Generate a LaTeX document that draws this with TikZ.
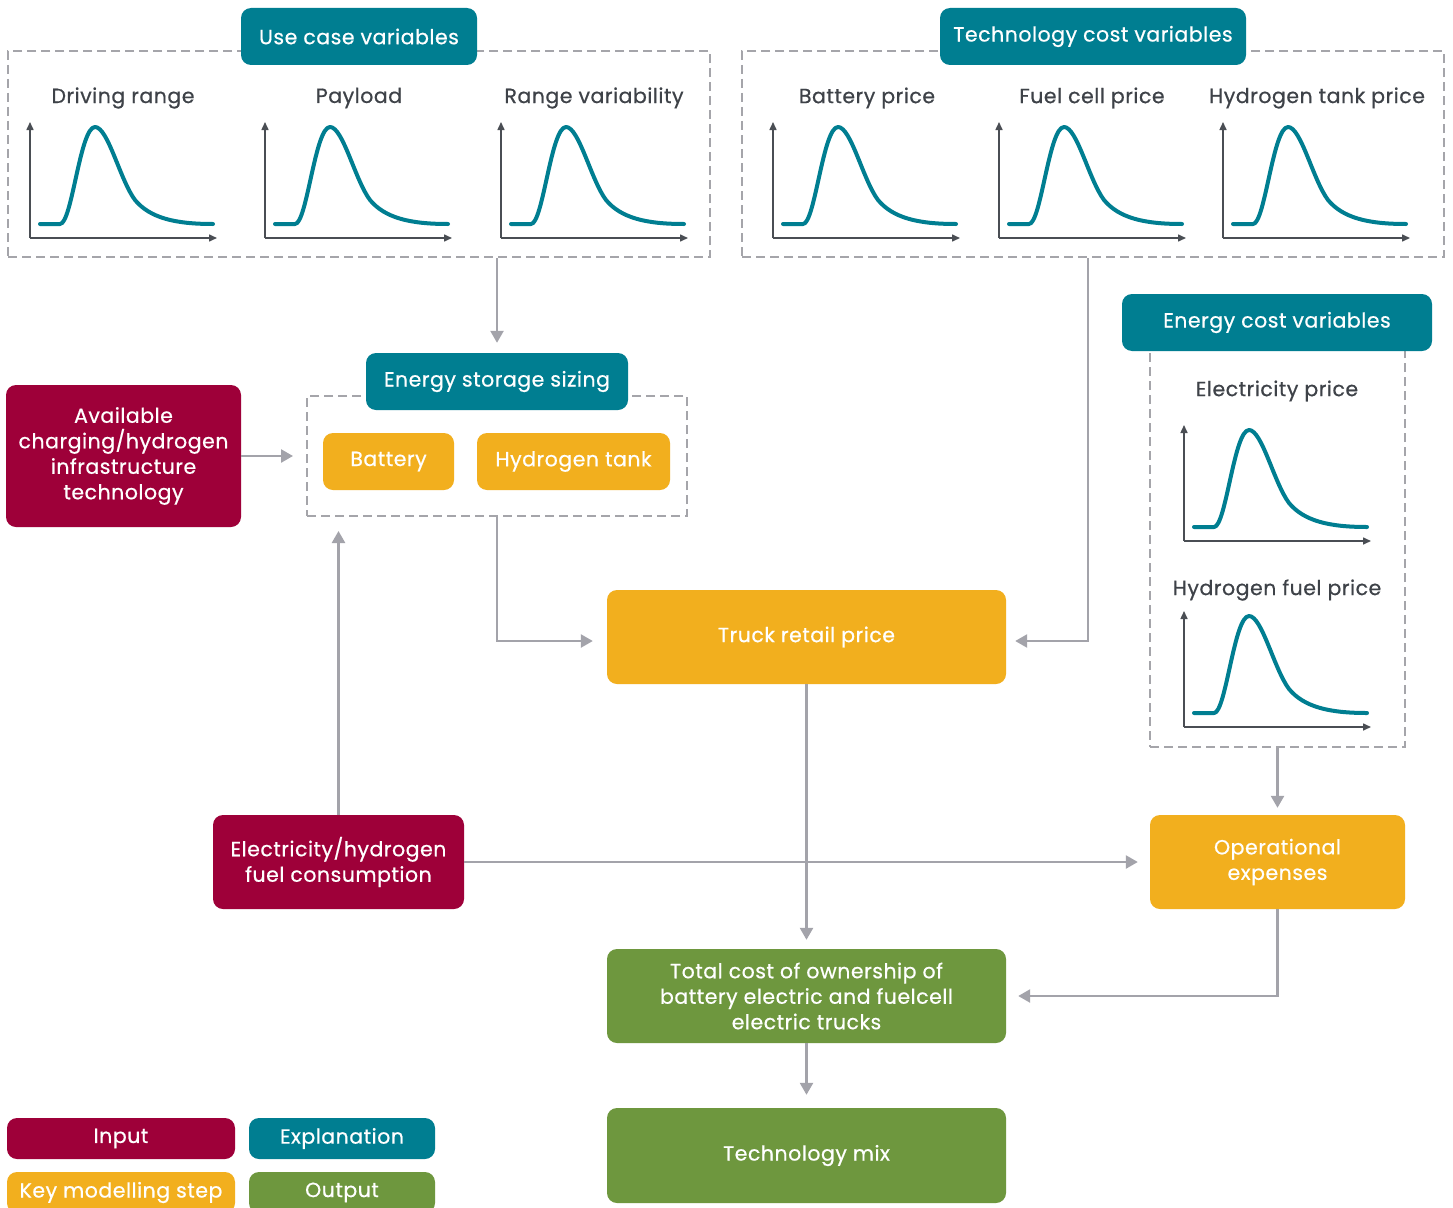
\documentclass[tikz,border=0pt]{standalone}
\usepackage{fontspec}
\setmainfont{Poppins}[LetterSpace=2.5,FakeBold=0.6]
\usetikzlibrary{arrows.meta}
\definecolor{crim}{RGB}{158,0,57}
\definecolor{tealc}{RGB}{0,126,145}
\definecolor{yel}{RGB}{242,175,30}
\definecolor{grn}{RGB}{110,151,62}
\definecolor{arrgray}{RGB}{163,163,170}
\definecolor{dashgray}{RGB}{165,165,170}
\definecolor{txtgray}{RGB}{62,66,72}
\definecolor{axgray}{RGB}{74,78,84}
\tikzset{
 box/.style={rectangle, rounded corners=10pt, fill=#1, text=white, align=center, font=\fontsize{20.5}{25.5}\selectfont, inner sep=0pt},
 dashbox/.style={rectangle, draw=dashgray, line width=2pt, dash pattern=on 9pt off 5pt, inner sep=0pt},
 arr/.style={draw=arrgray, line width=2.5pt, -{Triangle[length=12pt,width=13pt]}},
 lbl/.style={text=txtgray, font=\fontsize{20.5}{24}\selectfont, inner sep=0pt},
 axisline/.style={draw=axgray, line width=1.5pt, -{Triangle[length=8pt,width=7pt]}},
 distcurve/.style={draw=tealc, line width=4pt, line cap=round, line join=round},
}
\newcommand\distchart[2]{%
 \begin{scope}[shift={(#1,#2)}]
 \draw[axisline] (0,0) -- (0,-116);
 \draw[axisline] (0,0) -- (187,0);
 \draw[distcurve] (10,-14) -- (30,-14) .. controls (42,-14) and (50,-111) .. (65,-111) .. controls (78,-111) and (90,-58) .. (105,-38) .. controls (120,-20) and (145,-14) .. (183,-14);
 \end{scope}}
\begin{document}
\begin{tikzpicture}[x=1pt,y=-1pt]
\useasboundingbox[fill=white] (0,0) rectangle (1453,1207);

% Use case variables
\node[dashbox, minimum width=702, minimum height=206] (usecase) at (359,154) {};
\node[box=tealc, minimum width=236, minimum height=57] (usehead) at (359,36.5) {Use case variables};
\node[lbl] (ldr) at (123,98) {Driving range};
\node[lbl] (lpl) at (359,98) {Payload};
\node[lbl] (lrv) at (594,98) {Range variability};
\distchart{30}{238}
\distchart{265}{238}
\distchart{501}{238}

% Technology cost variables
\node[dashbox, minimum width=702, minimum height=206] (techbox) at (1093,154) {};
\node[box=tealc, minimum width=306, minimum height=57] (techhead) at (1093,36.5) {Technology cost variables};
\node[lbl] (lbp) at (867,98) {Battery price};
\node[lbl] (lfc) at (1092,98) {Fuel cell price};
\node[lbl] (lht) at (1317,98) {Hydrogen tank price};
\distchart{773}{238}
\distchart{999}{238}
\distchart{1223}{238}

% Energy cost variables
\node[dashbox, minimum width=255, minimum height=397] (energybox) at (1277.5,548.5) {};
\node[box=tealc, minimum width=310, minimum height=57] (energyhead) at (1277,322.5) {Energy cost variables};
\node[lbl] (lep) at (1277,391) {Electricity price};
\node[lbl] (lhf) at (1277,590) {Hydrogen fuel price};
\distchart{1184}{541}
\distchart{1184}{727}

% Energy storage sizing
\node[dashbox, minimum width=380, minimum height=120] (storebox) at (497,456) {};
\node[box=tealc, minimum width=262, minimum height=57] (storehead) at (497,381.5) {Energy storage sizing};
\node[box=yel, minimum width=131, minimum height=57] (battery) at (388.5,461.5) {Battery};
\node[box=yel, minimum width=193, minimum height=57] (h2tank) at (573.5,461.5) {Hydrogen tank};

% Inputs
\node[box=crim, minimum width=235, minimum height=142] (avail) at (123.5,456) {Available\\charging/hydrogen\\infrastructure\\technology};
\node[box=crim, minimum width=251, minimum height=94] (cons) at (338.5,862) {Electricity/hydrogen\\fuel consumption};

% Key steps and outputs
\node[box=yel, minimum width=399, minimum height=94] (truck) at (806.5,637) {Truck retail price};
\node[box=yel, minimum width=255, minimum height=94] (opex) at (1277.5,862) {Operational\\expenses};
\node[box=grn, minimum width=399, minimum height=94] (tco) at (806.5,996) {Total cost of ownership of\\battery electric and fuelcell\\electric trucks};
\node[box=grn, minimum width=399, minimum height=95] (mix) at (806.5,1155.5) {Technology mix};

% Legend
\node[box=crim, minimum width=228, minimum height=41] (leginput) at (121,1138.5) {Input};
\node[box=tealc, minimum width=186, minimum height=41] (legexpl) at (342,1138.5) {Explanation};
\node[box=yel, minimum width=228, minimum height=41] (legkey) at (121,1192.5) {Key modelling step};
\node[box=grn, minimum width=186, minimum height=41] (legout) at (342,1192.5) {Output};

% Connectors
\draw[arr] (storehead.north |- usecase.south) -- ([yshift=10pt]storehead.north);
\draw[arr] (avail.east) -- ([xshift=-13pt]storebox.west);
\draw[arr] (storebox.south) |- ([xshift=-14pt,yshift=-4pt]truck.west);
\draw[arr] ([xshift=-5pt]techbox.south) |- ([xshift=9pt,yshift=-4pt]truck.east);
\draw[arr] (truck.south) -- ([yshift=9pt]tco.north);
\draw[arr] (cons.east) -- ([xshift=-12pt]opex.west);
\draw[arr] (cons.north) -- ([yshift=-14pt]cons.north |- storebox.south);
\draw[arr] (energybox.south) -- ([yshift=7pt]opex.north);
\draw[arr] (opex.south) |- ([xshift=12pt]tco.east);
\draw[arr] (tco.south) -- ([yshift=13pt]mix.north);
\end{tikzpicture}
\end{document}
